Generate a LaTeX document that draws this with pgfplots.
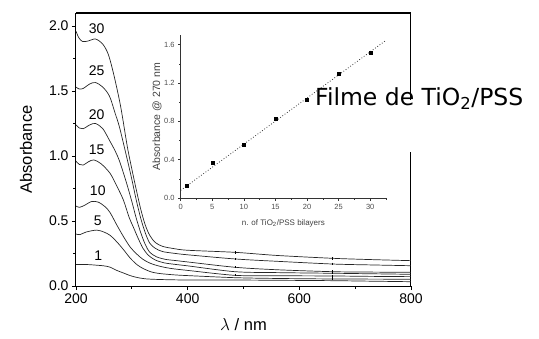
\documentclass[border=0pt]{standalone}
\usepackage{fontspec}
\setmainfont{Liberation Sans}
\newfontfamily\comicfont{DejaVu Sans}
\usepackage{pgfplots}
\pgfplotsset{compat=1.18}
\begin{document}
\begin{tikzpicture}[x=1pt,y=1pt]
\path[use as bounding box] (0,0) rectangle (539,338);
\begin{axis}[
  at={(76pt,52pt)}, anchor=south west,
  scale only axis, width=335pt, height=273pt,
  xmin=200, xmax=800, ymin=0, ymax=2.1,
  xtick={200,400,600,800}, minor xtick={300,500,700},
  ytick={0,0.5,1.0,1.5,2.0}, minor ytick={0.25,0.75,1.25,1.75},
  xtick pos=bottom, ytick pos=left, tick align=outside,
  major tick length=4pt, minor tick length=2.5pt,
  every tick/.style={black, line width=0.8pt},
  axis line style={line width=1pt},
  yticklabel style={/pgf/number format/fixed,/pgf/number format/fixed zerofill,/pgf/number format/precision=1},
  /pgf/number format/assume math mode=true,
  tick label style={font=\fontsize{14}{16}\selectfont},
  xlabel={$\lambda$ / nm}, ylabel={Absorbance},
  label style={font=\fontsize{16.5}{18}\selectfont},
  xlabel style={at={(axis description cs:0.5,-0.143)}, anchor=center},
  ylabel style={at={(axis description cs:-0.149,0.5)}, anchor=center},
  curve/.style={line width=0.7pt, black!85, no markers, smooth, tension=0.5},
]
% curve 30
\addplot[curve] coordinates {(200,1.96) (205,1.91) (212,1.88) (222,1.885) (235,1.90) (248,1.86) (258,1.78) (268,1.62) (280,1.38) (292,1.07) (300,0.90) (308,0.74) (316,0.59) (324,0.47) (332,0.39) (342,0.335) (355,0.305) (375,0.288) (400,0.275) (485,0.259) (560,0.235) (660,0.213) (730,0.203) (800,0.195)};
% curve 25
\addplot[curve] coordinates {(200,1.53) (206,1.515) (213,1.52) (225,1.555) (235,1.565) (248,1.53) (260,1.46) (270,1.33) (278,1.22) (292,0.97) (300,0.82) (308,0.66) (316,0.52) (324,0.41) (332,0.33) (342,0.29) (355,0.265) (375,0.252) (400,0.24) (485,0.208) (560,0.19) (660,0.169) (730,0.162) (800,0.156)};
% curve 20
\addplot[curve] coordinates {(200,1.24) (206,1.215) (213,1.21) (225,1.24) (235,1.25) (248,1.21) (260,1.12) (270,1.04) (278,0.96) (290,0.80) (300,0.65) (308,0.52) (316,0.41) (324,0.32) (332,0.26) (344,0.225) (360,0.205) (380,0.195) (400,0.185) (485,0.144) (560,0.125) (660,0.11) (730,0.107) (800,0.105)};
% curve 15
\addplot[curve] coordinates {(200,0.96) (206,0.935) (213,0.93) (222,0.955) (232,0.97) (245,0.94) (261,0.867) (273,0.77) (285,0.66) (295,0.53) (303,0.45) (311,0.37) (320,0.29) (330,0.235) (342,0.20) (358,0.178) (380,0.165) (400,0.155) (485,0.11) (560,0.103) (660,0.098) (730,0.094) (800,0.09)};
% curve 10
\addplot[curve] coordinates {(200,0.615) (206,0.605) (215,0.62) (228,0.65) (240,0.645) (252,0.61) (261,0.565) (273,0.47) (285,0.38) (297,0.30) (309,0.245) (320,0.205) (333,0.175) (350,0.152) (370,0.135) (400,0.12) (485,0.082) (560,0.079) (660,0.077) (730,0.074) (800,0.072)};
% curve 5
\addplot[curve] coordinates {(200,0.40) (207,0.395) (218,0.415) (237,0.43) (250,0.415) (261,0.39) (273,0.34) (285,0.28) (297,0.215) (309,0.165) (320,0.135) (335,0.108) (350,0.096) (375,0.086) (400,0.08) (485,0.064) (560,0.058) (660,0.054) (730,0.053) (800,0.052)};
% curve 1
\addplot[curve] coordinates {(200,0.165) (220,0.165) (237,0.16) (250,0.155) (261,0.145) (273,0.12) (285,0.10) (297,0.08) (310,0.065) (325,0.055) (350,0.05) (400,0.046) (485,0.046) (560,0.044) (660,0.041) (730,0.037) (800,0.033)};
% small detector-change glitches
\addplot[black, line width=0.6pt, sharp plot] coordinates {(486,0.268) (486,0.25)};
\addplot[black, line width=0.6pt, sharp plot] coordinates {(486,0.217) (486,0.199)};
\addplot[black, line width=0.6pt, sharp plot] coordinates {(486,0.153) (486,0.135)};
\addplot[black, line width=0.6pt, sharp plot] coordinates {(486,0.09) (486,0.074)};
\addplot[black, line width=0.6pt, sharp plot] coordinates {(659,0.225) (659,0.2)};
\addplot[black, line width=0.6pt, sharp plot] coordinates {(659,0.18) (659,0.158)};
\addplot[black, line width=0.6pt, sharp plot] coordinates {(659,0.12) (659,0.09)};
\addplot[black, line width=0.6pt, sharp plot] coordinates {(659,0.085) (659,0.045)};
\node[font=\fontsize{14}{16}\selectfont] at (axis cs:237,1.977) {30};
\node[font=\fontsize{14}{16}\selectfont] at (axis cs:237,1.656) {25};
\node[font=\fontsize{14}{16}\selectfont] at (axis cs:237,1.315) {20};
\node[font=\fontsize{14}{16}\selectfont] at (axis cs:237,1.05) {15};
\node[font=\fontsize{14}{16}\selectfont] at (axis cs:239,0.73) {10};
\node[font=\fontsize{14}{16}\selectfont] at (axis cs:239,0.50) {5};
\node[font=\fontsize{14}{16}\selectfont] at (axis cs:240,0.23) {1};
\end{axis}
\draw[black, line width=1.8pt] (76,325) -- (411,325);
\begin{axis}[
  at={(180.7pt,140pt)}, anchor=south west,
  scale only axis, width=205.3pt, height=163pt,
  xmin=0, xmax=32.5, ymin=0, ymax=1.7,
  axis x line=bottom, axis y line=left,
  axis line style={-, line width=0.6pt, black!80},
  xtick={0,5,...,30}, minor xtick={2.5,7.5,...,32.5},
  ytick={0,0.4,...,1.6}, minor ytick={0.2,0.6,...,1.4},
  tick align=outside, major tick length=2.5pt, minor tick length=1.5pt,
  every tick/.style={black!80, line width=0.5pt},
  yticklabel style={/pgf/number format/fixed,/pgf/number format/fixed zerofill,/pgf/number format/precision=1},
  /pgf/number format/assume math mode=true,
  tick label style={font=\fontsize{7.5}{9}\selectfont, text=black!70},
  xlabel={n. of TiO\textsubscript{2}/PSS bilayers}, ylabel={Absorbance @ 270 nm},
  xlabel style={font=\fontsize{8}{10}\selectfont, text=black!75, at={(axis description cs:0.5,-0.153)}, anchor=center},
  ylabel style={font=\fontsize{10.5}{12}\selectfont, text=black!75, at={(axis description cs:-0.115,0.5)}, anchor=center},
]
\addplot[black!80, dotted, line width=0.8pt] coordinates {(0,0.08) (32.5,1.645)};
\addplot[only marks, mark=square*, mark size=1.5pt, black] coordinates {(1,0.125) (5,0.373) (10,0.557) (15,0.823) (20,1.022) (25,1.294) (30,1.52)};
\end{axis}
\fill[white] (313,186) rectangle (539,238);
\node[anchor=base west, font=\comicfont\fontsize{23.5}{26}\selectfont, inner sep=0pt] at (315,232) {Filme de TiO\textsubscript{2}/PSS};
\end{tikzpicture}
\end{document}
